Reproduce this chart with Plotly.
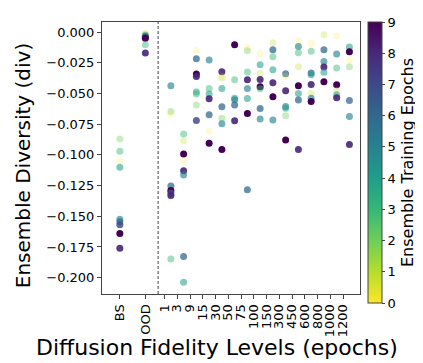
import plotly.graph_objects as go

# categorias do eixo x
levels = ["BS", "OOD", "1", "3", "9", "15", "30", "50", "75", "100",
          "150", "300", "450", "600", "800", "1000", "1200"]

# diversidade, uma lista por nível
diversity = [
    [-0.087, -0.097, -0.105, -0.110, -0.1525, -0.1545, -0.157, -0.164, -0.176],
    [-0.0008, -0.0015, -0.0025, -0.0035, -0.0045, -0.005, -0.0104, -0.0171],
    [-0.0438, -0.0646, -0.0668, -0.1253, -0.129, -0.131, -0.1331, -0.1848],
    [-0.0831, -0.0886, -0.0992, -0.1046, -0.113, -0.1163, -0.1828, -0.2038],
    [-0.0149, -0.0218, -0.0342, -0.0361, -0.0489, -0.0505, -0.0593, -0.072],
    [-0.0228, -0.0459, -0.0505, -0.0544, -0.0674, -0.0805, -0.0905],
    [-0.0324, -0.0361, -0.0375, -0.0459, -0.0609, -0.0701, -0.0747, -0.0956],
    [-0.0104, -0.0389, -0.0538, -0.0552, -0.0593, -0.0723],
    [-0.0125, -0.0152, -0.0326, -0.0389, -0.046, -0.054, -0.0664, -0.1285],
    [-0.0174, -0.0267, -0.0338, -0.0386, -0.0446, -0.0462, -0.0622, -0.0707],
    [-0.0087, -0.0144, -0.0201, -0.0307, -0.0413, -0.0527, -0.0717],
    [-0.034, -0.0361, -0.0478, -0.0606, -0.062, -0.0682, -0.0878],
    [-0.0071, -0.0117, -0.0169, -0.0283, -0.0438, -0.05, -0.0554, -0.0956],
    [-0.0092, -0.0157, -0.0334, -0.0348, -0.0426, -0.0501, -0.0538, -0.0565],
    [-0.0022, -0.0144, -0.0239, -0.0285, -0.0328, -0.0405],
    [-0.003, -0.0179, -0.0293, -0.043, -0.0473, -0.0511, -0.0535],
    [-0.0122, -0.0161, -0.0226, -0.0283, -0.0557, -0.0687, -0.0915],
]

# épocas de treino do ensemble (cor) para cada ponto
epochs = [
    [2, 3, 0, 4, 5, 6, 7, 9, 8],
    [0, 1, 4, 6, 7, 9, 3, 8],
    [5, 2, 0, 6, 9, 7, 8, 3],
    [3, 1, 9, 0, 8, 5, 6, 4],
    [0, 6, 9, 8, 4, 3, 2, 7],
    [5, 3, 4, 8, 6, 0, 9],
    [8, 0, 1, 4, 6, 2, 5, 9],
    [9, 3, 4, 5, 6, 8],
    [0, 2, 3, 8, 5, 4, 9, 6],
    [0, 4, 1, 8, 9, 3, 6, 5],
    [1, 6, 3, 4, 8, 9, 5],
    [6, 0, 8, 5, 4, 2, 9],
    [0, 5, 3, 1, 9, 4, 6, 8],
    [0, 3, 6, 4, 8, 1, 5, 9],
    [1, 6, 5, 8, 4, 9],
    [0, 5, 3, 9, 1, 4, 8],
    [4, 9, 0, 2, 6, 5, 8],
]

# posições no eixo: BS e OOD à esquerda da linha tracejada
tick_pos = [-3.5, -1.5] + list(range(len(levels) - 2))
point_pos = [-3.5, -1.5] + [i + 0.5 for i in range(len(levels) - 2)]

xs, ys, cs = [], [], []
for p, d, e in zip(point_pos, diversity, epochs):
    xs += [p] * len(d)
    ys += d
    cs += e
alphas = [0.2 + 0.8 * c / 9 for c in cs]

FONT = "DejaVu Sans"
AXIS = "#444444"

fig = go.Figure()
fig.add_trace(go.Scatter(
    x=xs, y=ys, mode="markers",
    marker=dict(
        size=7, color=cs, opacity=alphas,
        colorscale="Viridis", reversescale=True, cmin=0, cmax=9,
        line=dict(width=0),
        colorbar=dict(
            title=dict(text="Ensemble Training Epochs", side="right",
                       font=dict(size=16, family=FONT, color="black")),
            tickvals=list(range(10)), ticks="outside", ticklen=3,
            tickcolor=AXIS, tickfont=dict(size=13, family=FONT, color="black"),
            thickness=14, len=1.033, lenmode="fraction",
            x=1.03, xanchor="left", y=1.0, yanchor="top",
            xpad=0, ypad=0, outlinewidth=1, outlinecolor=AXIS,
        ),
    ),
    showlegend=False,
))

fig.add_shape(type="line", xref="x", yref="paper", x0=-0.5, x1=-0.5, y0=0, y1=1,
              line=dict(color="#444444", width=1, dash="3px,2px"))

# títulos dos eixos como anotações para controlar a posição
fig.add_annotation(text="Diffusion Fidelity Levels (epochs)", xref="paper", yref="paper",
                   x=0.446, y=-0.195, xanchor="center", yanchor="middle", showarrow=False,
                   font=dict(size=22, family=FONT, color="black"))
fig.add_annotation(text="Ensemble Diversity (div)", xref="paper", yref="paper",
                   x=-0.306, y=0.47, xanchor="center", yanchor="middle", showarrow=False,
                   textangle=-90, font=dict(size=20, family=FONT, color="black"))

fig.update_xaxes(
    range=[-4.9, 15.33], tickvals=tick_pos, ticktext=levels, tickangle=-90,
    ticks="outside", ticklen=4, tickcolor=AXIS, showgrid=False, zeroline=False,
    showline=True, mirror=True, linecolor=AXIS, linewidth=1,
    tickfont=dict(size=13, family=FONT, color="black"),
)
fig.update_yaxes(
    range=[-0.2133, 0.0082], tickvals=[0, -0.025, -0.05, -0.075, -0.1, -0.125, -0.15, -0.175, -0.2],
    tickformat=".3f", ticks="outside", ticklen=4, tickcolor=AXIS,
    showgrid=False, zeroline=False, showline=True, mirror=True,
    linecolor=AXIS, linewidth=1,
    tickfont=dict(size=13, family=FONT, color="black"),
)

fig.update_layout(
    width=423, height=363,
    margin=dict(l=94, r=71, t=14, b=77, autoexpand=False),
    plot_bgcolor="white", paper_bgcolor="white",
    font=dict(family=FONT),
)

fig.write_html("out.html")
